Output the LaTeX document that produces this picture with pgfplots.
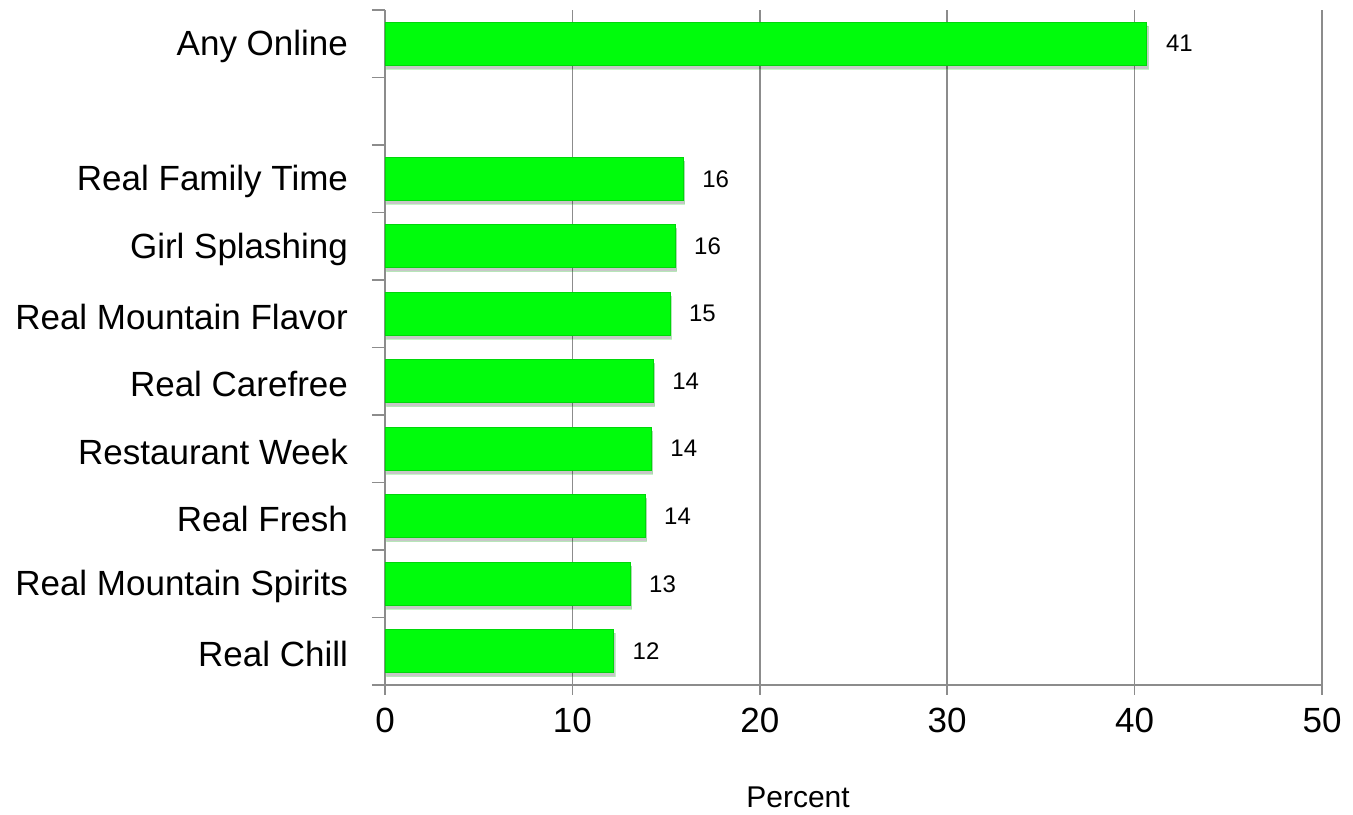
\documentclass[border=0pt]{standalone}
\usepackage{fontspec}
\setmainfont{Liberation Sans}
\usepackage{pgfplots}
\pgfplotsset{compat=1.18}
\usetikzlibrary{shadows}

\definecolor{axgray}{RGB}{140,140,140}
\definecolor{barfill}{RGB}{0,252,12}
\definecolor{baredge}{RGB}{0,215,10}

% y: slot index (8 is the empty slot), x: percent, label: rounded value
\pgfplotstableread{
y  x      lab
0  12.19  12
1  13.07  13
2  13.87  14
3  14.20  14
4  14.30  14
5  15.20  15
6  15.47  16
7  15.90  16
9  40.65  41
}\datatable

\begin{document}
\begin{tikzpicture}
\begin{axis}[
    scale only axis,
    width=468.5pt, height=337.5pt,
    xmin=0, xmax=50,
    ymin=-0.5, ymax=9.5,
    axis lines*=left,
    axis line style={axgray, line width=0.75pt},
    xtick={0,10,...,50},
    ytick={0,...,9},
    yticklabels={Real Chill,Real Mountain Spirits,Real Fresh,Restaurant Week,Real Carefree,Real Mountain Flavor,Girl Splashing,Real Family Time,{},Any Online},
    minor ytick={-0.5,0.5,...,9.5},
    tick align=outside,
    major tick length=5pt,
    minor tick length=6.5pt,
    major x tick style={axgray, line width=0.75pt},
    major y tick style={draw=none},
    minor y tick style={axgray, line width=0.75pt},
    xmajorgrids,
    major grid style={axgray, line width=0.75pt},
    /pgf/number format/assume math mode=true,
    tick label style={font=\fontsize{17.5}{21}\selectfont},
    y tick label style={xshift=-10pt, yshift=-1.5pt},
    x tick label style={yshift=-3pt},
    xlabel={Percent},
    xlabel style={at={(rel axis cs:0.4408,0)}, anchor=base, yshift=-61.5pt, font=\fontsize{15}{18}\selectfont},
    xbar, bar width=21.5pt,
    clip=false,
    point meta=explicit symbolic,
    nodes near coords,
    nodes near coords style={anchor=west, inner sep=0pt, xshift=9.5pt, font=\fontsize{12}{14}\selectfont, text=black},
]
\addplot[draw=baredge, line width=0.3pt, fill=barfill,
    drop shadow={shadow xshift=0.8pt, shadow yshift=-1.8pt, fill=black, opacity=0.22}]
    table[x=x, y=y, meta=lab] {\datatable};
\path ([xshift=-192.5pt,yshift=-64.5pt]rel axis cs:0,0) rectangle ([xshift=15.5pt,yshift=5pt]rel axis cs:1,1);
\end{axis}
\end{tikzpicture}
\end{document}
